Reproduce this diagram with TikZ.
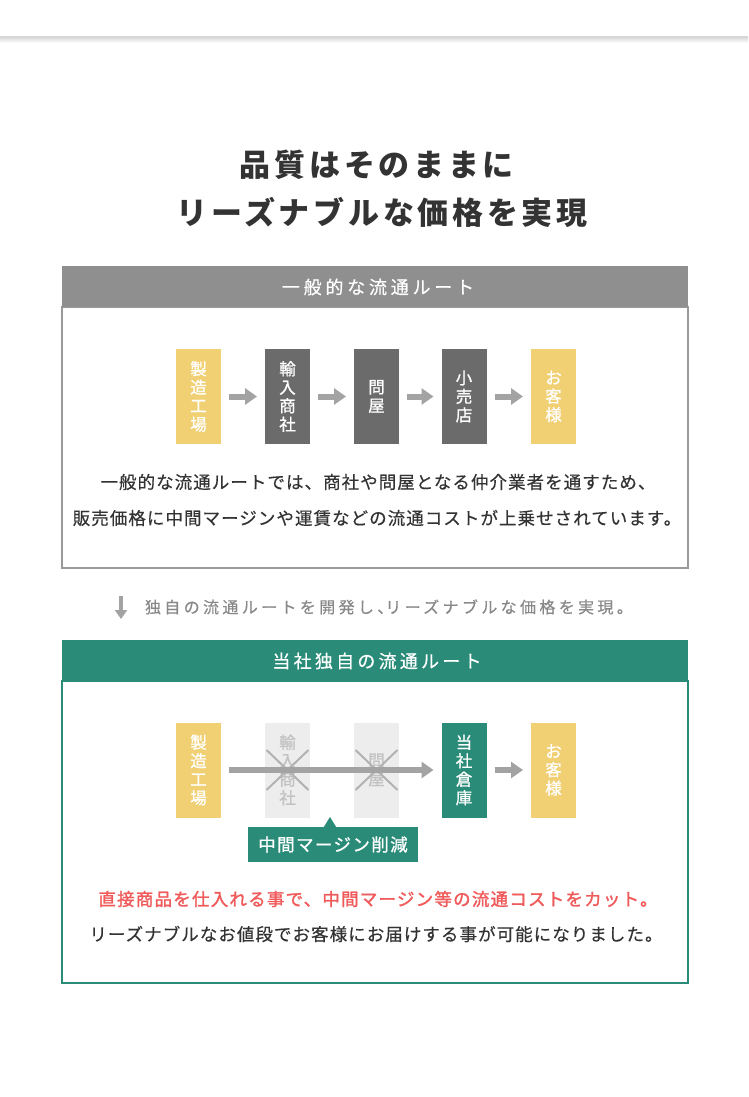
\documentclass[tikz,border=0pt]{standalone}
\usepackage{fontspec}
\setmainfont{Noto Sans CJK JP}
\usetikzlibrary{arrows.meta}
\definecolor{cyellow}{HTML}{F1CF73}
\definecolor{cdark}{HTML}{6B6B6B}
\definecolor{cgreen}{HTML}{2A8C78}
\definecolor{chead}{HTML}{8F8F8F}
\definecolor{cborder}{HTML}{9A9A9A}
\definecolor{cghost}{HTML}{EDEDED}
\definecolor{cghosttext}{HTML}{C2C2C2}
\definecolor{cx}{HTML}{B2B2B2}
\definecolor{carrow}{HTML}{A3A3A3}
\definecolor{cred}{HTML}{F05A5A}
\definecolor{ctext}{HTML}{333333}
\definecolor{csub}{HTML}{888888}
\newcommand\lsp[1]{\addfontfeature{LetterSpace=#1}}
\newcommand\fb[1]{\addfontfeature{FakeBold=#1}}
\begin{document}
\begin{tikzpicture}[x=1pt,y=-1pt,
  every node/.style={inner sep=0pt, outer sep=0pt},
  flow/.style={minimum width=45pt, minimum height=95pt, text=white, align=center,
    font=\fontsize{16.5}{18.5}\selectfont\fb{1}},
  yel/.style={flow, fill=cyellow},
  dark/.style={flow, fill=cdark},
  grn/.style={flow, fill=cgreen},
  ghost/.style={flow, fill=cghost, text=cghosttext},
  flowarrow/.style={draw=carrow, line width=6pt, -{Triangle[length=12pt,width=16pt]},
    shorten <=8pt, shorten >=8pt},
  headtext/.style={text=white, font=\fontsize{18}{20}\selectfont\fb{0.6}\lsp{21}},
  body/.style={text=ctext, font=\fontsize{17.5}{20}\selectfont\fb{0.4}\lsp{6}},
  xmark/.style={draw=cx, line width=2pt}
]
\useasboundingbox (0,0) rectangle (748,1097);
\fill[white] (0,0) rectangle (748,1097);
% top rule
\shade[top color=black!14, bottom color=white] (0,37.5) rectangle (748,43);
\draw[black!16, line width=1pt] (0,37) -- (748,37);
% title
\node[text=ctext, font=\fontsize{31}{36}\selectfont\bfseries\lsp{12}] (t1) at (377,165) {品質はそのままに};
\node[text=ctext, font=\fontsize{31}{36}\selectfont\bfseries\lsp{12}] (t2) at (382,212) {リーズナブルな価格を実現};
% box 1
\draw[cborder, line width=1.5pt, fill=white] (62,307) rectangle (688,568);
\fill[chead] (62,266) rectangle (688,307);
\node[headtext] (h1) at (378,287) {一般的な流通ルート};
\node[yel] (a1) at (198.5,396.5) {製\\造\\工\\場};
\node[dark] (a2) at (287.5,396.5) {輸\\入\\商\\社};
\node[dark] (a3) at (376.5,396.5) {問\\屋};
\node[dark] (a4) at (464,396.5) {小\\売\\店};
\node[yel] (a5) at (553.5,396.5) {お\\客\\様};
\draw[flowarrow] (a1) -- (a2);
\draw[flowarrow] (a2) -- (a3);
\draw[flowarrow] (a3) -- (a4);
\draw[flowarrow] (a4) -- (a5);
\node[body] (d1) at (378,482) {一般的な流通ルートでは、商社や問屋となる仲介業者を通すため、};
\node[body] (d2) at (377,518) {販売価格に中間マージンや運賃などの流通コストが上乗せされています。};
% middle line
\coordinate (dtop) at (121,596);
\coordinate (dbot) at (121,619);
\draw[carrow, line width=4pt, -{Triangle[length=9pt,width=12pt]}] (dtop) -- (dbot);
\node[text=csub, anchor=west, font=\fontsize{16}{18}\selectfont\fb{0.4}\lsp{21}] (sub) at (145,607) {独自の流通ルートを開発し、\kern-8pt リーズナブルな価格を実現。};
% box 2
\draw[cgreen, line width=1.5pt, fill=white] (62,681) rectangle (688,983);
\fill[cgreen] (62,640) rectangle (688,681);
\node[headtext, font=\fontsize{18}{20}\selectfont\fb{0.6}\lsp{18}] (h2) at (377,661) {当社独自の流通ルート};
\node[yel] (b1) at (198.5,770) {製\\造\\工\\場};
\node[ghost] (b2) at (287.5,770) {輸\\入\\商\\社};
\node[ghost] (b3) at (376.5,770) {問\\屋};
\node[grn] (b4) at (464,770) {当\\社\\倉\\庫};
\node[yel] (b5) at (553.5,770) {お\\客\\様};
\draw[xmark] ([shift={(-21,-20)}]b2.center) -- ([shift={(21,20)}]b2.center);
\draw[xmark] ([shift={(-21,20)}]b2.center) -- ([shift={(21,-20)}]b2.center);
\draw[xmark] ([shift={(-21,-20)}]b3.center) -- ([shift={(21,20)}]b3.center);
\draw[xmark] ([shift={(-21,20)}]b3.center) -- ([shift={(21,-20)}]b3.center);
\draw[flowarrow] (b1) -- (b4);
\draw[flowarrow] (b4) -- (b5);
% callout
\node[fill=cgreen, minimum width=170pt, minimum height=35pt, text=white,
  font=\fontsize{17.5}{20}\selectfont\fb{1}\lsp{8}] (cut) at (333,844.5) {中間マージン削減};
\coordinate (tip) at (330,817);
\fill[cgreen] (tip) -- (323.5,827.5) -- (336.5,827.5) -- cycle;
\node[text=cred, font=\fontsize{17.5}{20}\selectfont\fb{1.6}\lsp{7}] (r1) at (378,899) {直接商品を仕入れる事で、中間マージン等の流通コストをカット。};
\node[body] (r2) at (376,934) {リーズナブルなお値段でお客様にお届けする事が可能になりました。};
\end{tikzpicture}
\end{document}
